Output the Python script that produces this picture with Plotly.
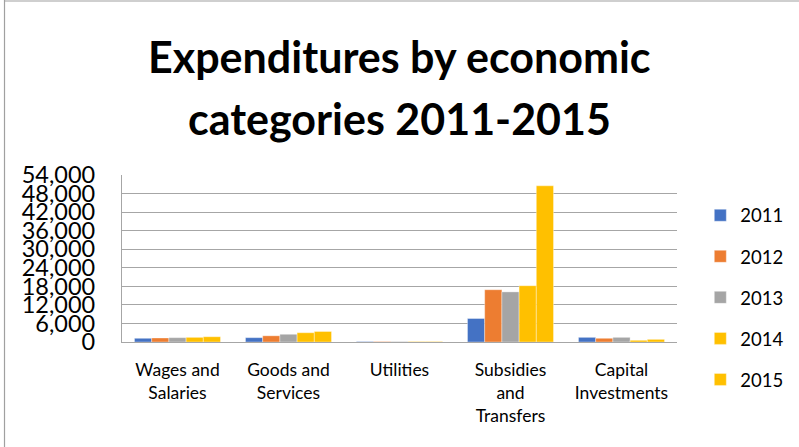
import plotly.graph_objects as go

categories = ["Wages and<br>Salaries", "Goods and<br>Services", "Utilities",
              "Subsidies<br>and<br>Transfers", "Capital<br>Investments"]
years = ["2011", "2012", "2013", "2014", "2015"]
v2011 = [1200, 1400, 150, 7600, 1500]
v2012 = [1300, 2000, 150, 16900, 1200]
v2013 = [1400, 2500, 150, 16200, 1500]
v2014 = [1500, 3000, 150, 18200, 550]
v2015 = [1700, 3400, 150, 50500, 850]
series = [v2011, v2012, v2013, v2014, v2015]
colors = ["#4472C4", "#ED7D31", "#A5A5A5", "#FFC000", "#FFC000"]
tickvals = [0, 6000, 12000, 18000, 24000, 30000, 36000, 42000, 48000, 54000]
title_lines = ["Expenditures by economic", "categories 2011-2015"]

FONT = "Lato"

fig = go.Figure()
for y, vals, c in zip(years, series, colors):
    fig.add_trace(go.Bar(x=categories, y=vals, name=y, legendgroup=y,
                         marker=dict(color=c, line=dict(color="rgba(255,255,255,0.6)", width=0.6))))

annotations = [
    dict(text="<b>%s</b>" % t, xref="paper", yref="paper", x=0.5, y=yy,
         xanchor="center", yanchor="middle", showarrow=False,
         font=dict(family=FONT, size=43, color="#000000"))
    for t, yy in zip(title_lines, [1.707, 1.341])
]

fig.update_layout(
    width=799, height=447,
    margin=dict(l=122, r=122, t=175, b=105, autoexpand=False),
    paper_bgcolor="white", plot_bgcolor="white",
    font=dict(family=FONT, color="#000000"),
    annotations=annotations,
    bargap=0.225, bargroupgap=0,
    showlegend=True,
    legend=dict(x=1.042, xanchor="left", y=0.87, yanchor="top",
                traceorder="grouped", tracegroupgap=14, maxheight=440,
                font=dict(family=FONT, size=18.5, color="#000000"),
                bgcolor="rgba(0,0,0,0)"),
    shapes=[
        dict(type="line", xref="paper", yref="paper", x0=-0.2117, x1=-0.2117, y0=-0.65, y1=2.05,
             line=dict(color="#A0A0A0", width=1.2)),
        dict(type="line", xref="paper", yref="paper", x0=-0.2117, x1=1.22, y0=2.042, y1=2.042,
             line=dict(color="#A0A0A0", width=1.2)),
    ],
)
fig.update_yaxes(range=[0, 54000], tickvals=tickvals, tickformat=",",
                 showgrid=True, gridcolor="#A6A6A6", gridwidth=1.4,
                 showline=True, linecolor="#A6A6A6", linewidth=1.2,
                 ticks="", ticklabelstandoff=21,
                 tickfont=dict(family=FONT, size=23.5, color="#000000"),
                 zeroline=False)
fig.update_xaxes(showline=True, linecolor="#A6A6A6", linewidth=1.4,
                 ticks="", ticklabelstandoff=12,
                 tickfont=dict(family=FONT, size=17.5, color="#000000"),
                 tickangle=0)

fig.write_html("out.html", config={"displayModeBar": False},
               post_script="document.body.style.margin='0';document.body.style.padding='0';")
